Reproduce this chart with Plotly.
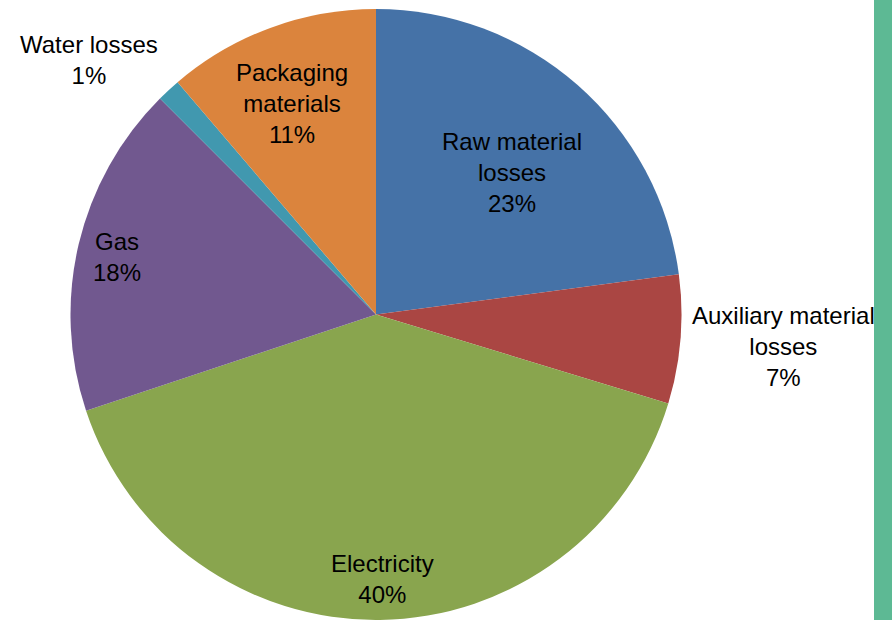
import plotly.graph_objects as go

# Data
categories = ["Raw material losses", "Auxiliary material losses", "Electricity",
              "Gas", "Water losses", "Packaging materials"]
display_labels = ["Raw material<br>losses", "Auxiliary material<br>losses", "Electricity",
                  "Gas", "Water losses", "Packaging<br>materials"]
values = [22.9, 6.8, 40.2, 17.6, 1.25, 11.25]
colors = ["#4572A7", "#AA4643", "#89A54E", "#71588F", "#4198AF", "#DB843D"]

W, H = 892, 620
L, R, T, B = 70, 210, 9, 0
pw, ph = W - L - R, H - T - B

def px2paper(x, y):
    return (x - L) / pw, 1 - (y - T) / ph

# label centre positions in pixels (layout)
label_pos = [(512, 172), (783, 346), (382, 579), (117, 257), (89, 60), (292, 104)]

fig = go.Figure(go.Pie(
    labels=categories, values=values, sort=False, direction="clockwise", rotation=0,
    marker=dict(colors=colors, line=dict(width=0)),
    textinfo="none", hoverinfo="label+percent", showlegend=False,
))

total = sum(values)
annotations = []
for lab, v, (x, y) in zip(display_labels, values, label_pos):
    xp, yp = px2paper(x, y)
    annotations.append(dict(
        x=xp, y=yp, xref="paper", yref="paper", xanchor="center", yanchor="middle",
        text=f"{lab}<br>{round(100 * v / total)}%", showarrow=False, align="center",
        font=dict(family="Liberation Sans, Arial, sans-serif", size=24, color="#000000"),
    ))

x0, _ = px2paper(874, 0)
x1, _ = px2paper(892, 0)
_, ytop = px2paper(0, 0)
_, ybot = px2paper(0, 620)

fig.update_layout(
    width=W, height=H, margin=dict(l=L, r=R, t=T, b=B),
    paper_bgcolor="white", plot_bgcolor="white",
    annotations=annotations,
    shapes=[dict(type="rect", xref="paper", yref="paper", x0=x0, x1=x1, y0=ybot, y1=ytop,
                 fillcolor="#5DB994", line=dict(width=0), layer="below")],
)

fig.write_html("out.html")
